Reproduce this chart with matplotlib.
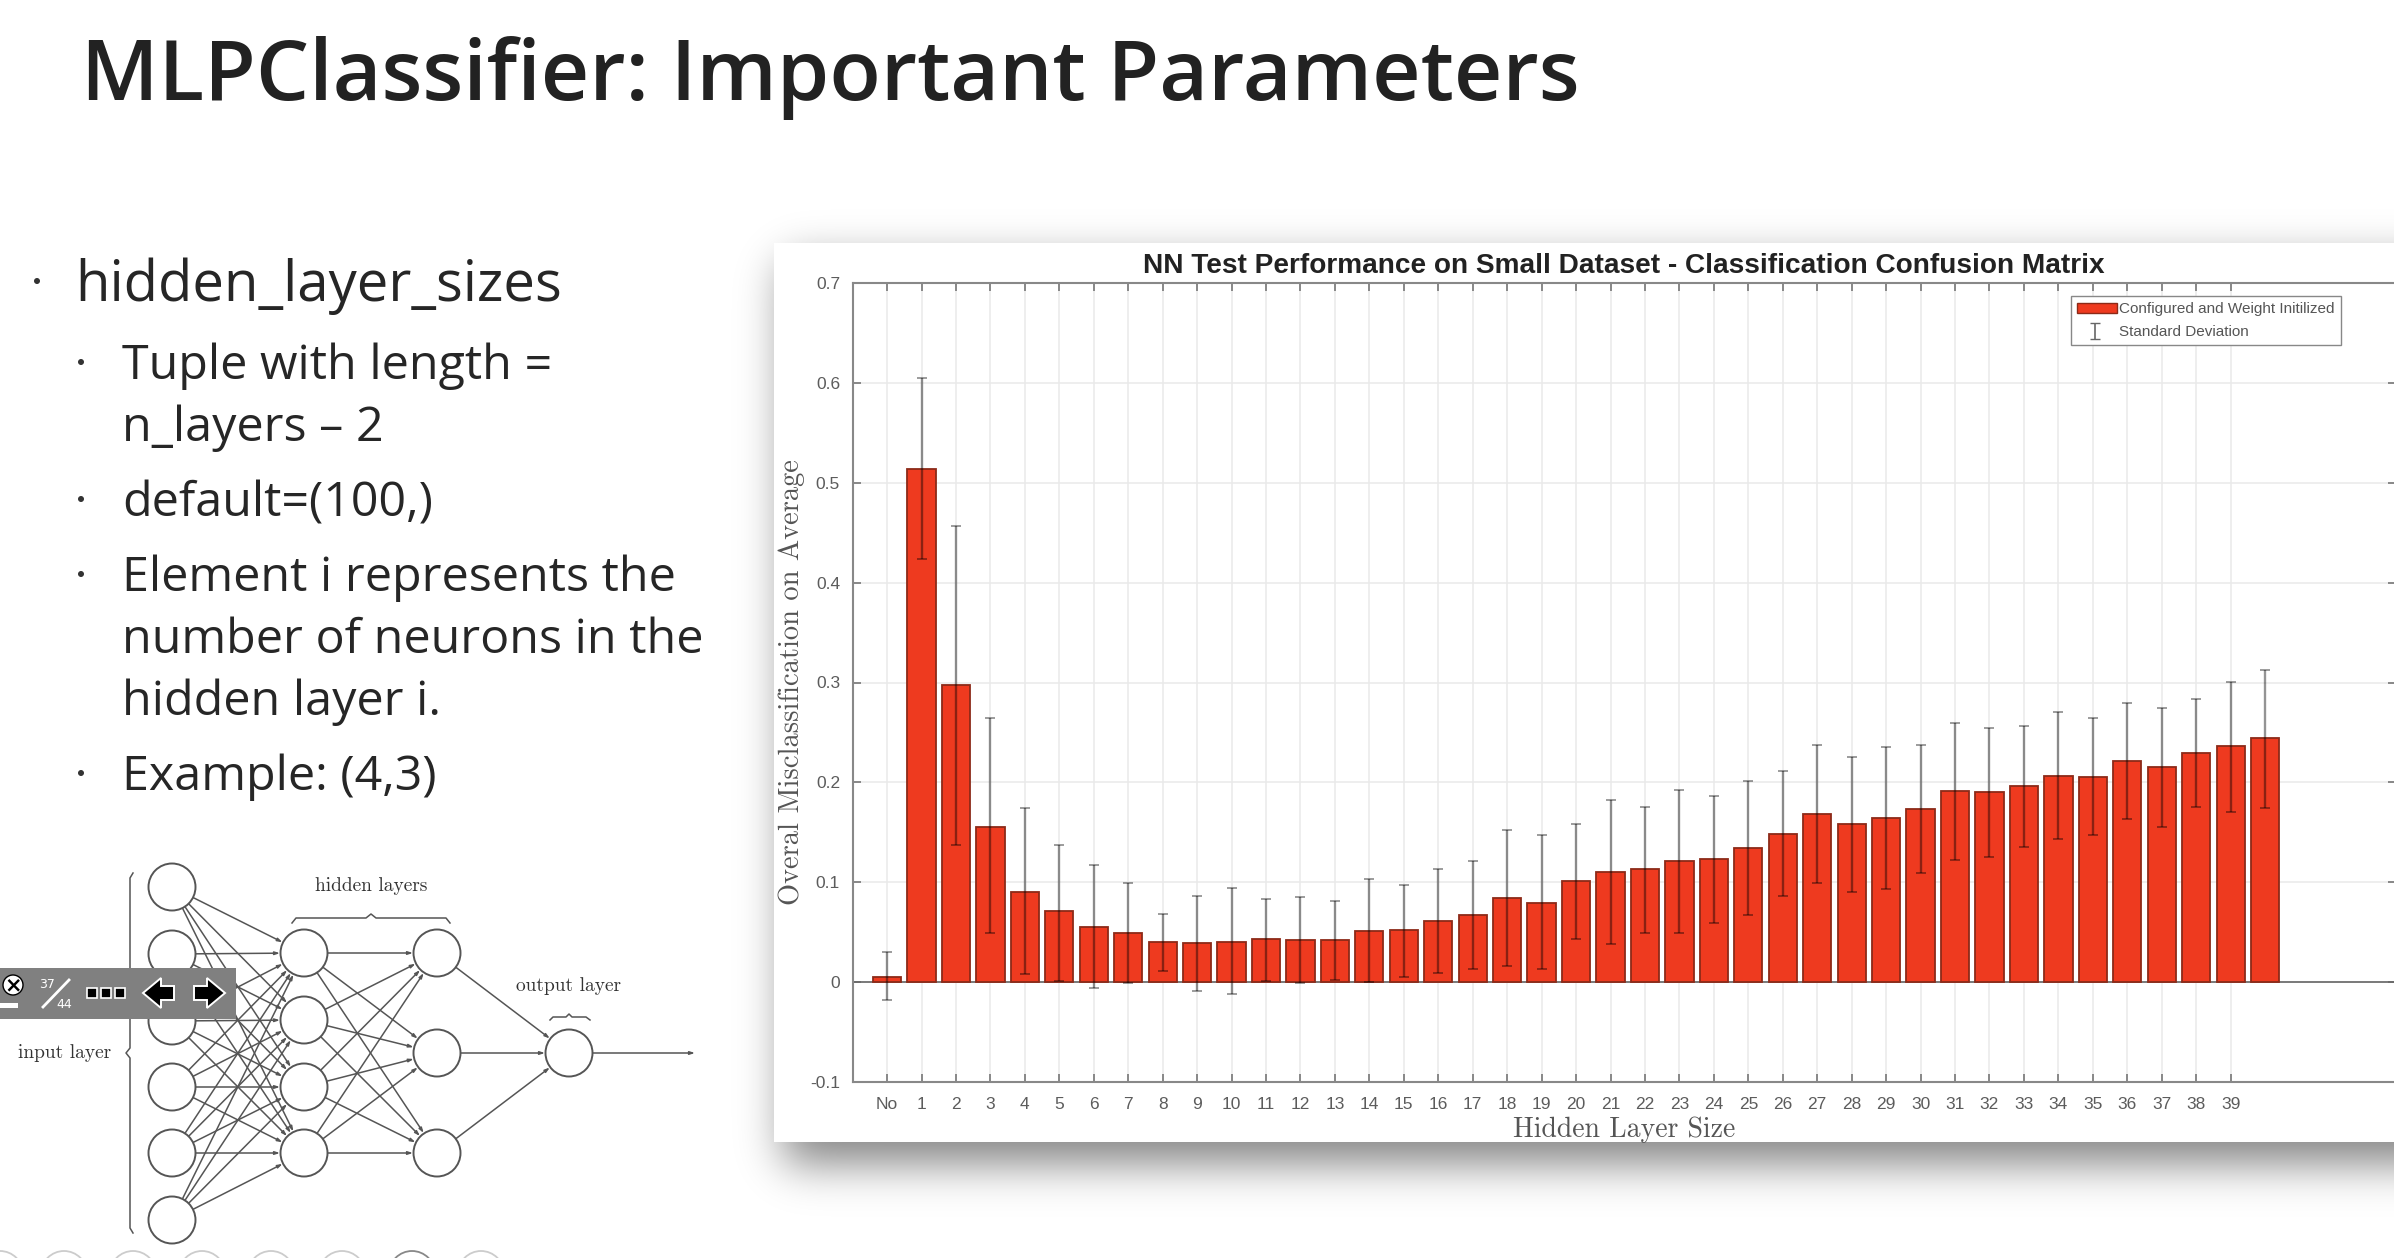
import math
import numpy as np
import matplotlib
matplotlib.use('Agg')
import matplotlib.pyplot as plt
from matplotlib.patches import Rectangle, Ellipse, Patch, Polygon
from matplotlib.lines import Line2D

W, H = 2394, 1258

# chart values
labels = ['No'] + [str(i) for i in range(1, 40)]
means = [.005, .514, .297, .155, .090, .071, .055, .049, .040, .039, .040,
         .043, .042, .042, .051, .052, .061, .067, .084, .079, .101,
         .110, .113, .121, .123, .134, .148, .168, .158, .164, .173,
         .191, .190, .196, .206, .205, .221, .215, .229, .236, .244]
upper = [.030, .605, .457, .264, .174, .137, .117, .099, .068, .086, .094,
         .083, .085, .081, .103, .097, .113, .121, .152, .147, .158,
         .182, .175, .192, .186, .201, .211, .237, .225, .235, .237,
         .259, .254, .256, .270, .264, .279, .274, .283, .301, .313]
lower = [-.018, .424, .137, .049, .008, .001, -.006, -.001, .011, -.009, -.012,
         .001, -.001, .002, .000, .005, .009, .013, .016, .013, .043,
         .038, .049, .049, .059, .067, .086, .099, .090, .093, .109,
         .122, .125, .135, .143, .147, .163, .155, .175, .170, .174]
yticks = [-.1, 0, .1, .2, .3, .4, .5, .6, .7]
ytick_labels = ['-0.1', '0', '0.1', '0.2', '0.3', '0.4', '0.5', '0.6', '0.7']

# slide text
title = 'MLPClassifier: Important Parameters'
bullets = [('hidden_layer_sizes', 1, 301, True),
           ('Tuple with length =', 2, 379, True),
           ('n_layers – 2', 2, 441, False),
           ('default=(100,)', 2, 516, True),
           ('Element i represents the', 2, 591, True),
           ('number of neurons in the', 2, 653, False),
           ('hidden layer i.', 2, 715, False),
           ('Example: (4,3)', 2, 790, True)]

# network sketch
layer_x = [172, 304, 437, 569]
layer_y = [[887, 954, 1021, 1087, 1153, 1220],
           [953, 1020, 1087, 1153],
           [953, 1053, 1153],
           [1053]]
thumb_x = [0, 64, 133, 202, 271, 342, 412, 481]

fig = plt.figure(figsize=(W / 100, H / 100), dpi=100, facecolor='white')


def pixel_rect(left, top, right, bottom):
    return [left / W, 1 - bottom / H, (right - left) / W, (bottom - top) / H]


bg = fig.add_axes([0, 0, 1, 1], zorder=0)

# soft shadow round the chart panel
erf = np.vectorize(math.erf)
xx = np.arange(W) + .5
yy = np.arange(H) + .5
sx = .5 * (erf((xx - 784) / 31) + 1)
sy = .5 * (erf((yy - 262) / 31) - erf((yy - 1164) / 31))
shadow = np.zeros((H, W, 4))
shadow[..., 3] = .48 * np.outer(sy, sx)
bg.imshow(shadow, extent=(0, W, H, 0), aspect='auto', interpolation='nearest', zorder=0)
bg.set_xlim(0, W)
bg.set_ylim(H, 0)
bg.axis('off')
bg.add_patch(Rectangle((774, 243), 1700, 899, fc='white', ec='none', zorder=3))

bg.text(81, 100, title, family='Open Sans', fontweight='semibold', fontsize=60.6,
        color='#222222', va='baseline')

for text, level, base, dot in bullets:
    x = 75 if level == 1 else 122
    size = 40.5 if level == 1 else 34.8
    bg.text(x, base, text, family='Open Sans', fontsize=size, color='#262626', va='baseline')
    if dot:
        bg.add_patch(Ellipse((37 if level == 1 else 81, base - 20 if level == 1 else base - 17),
                             6, 6, fc='#333333', ec='none'))

# network connections, circles on top
line_kw = dict(color='#555555', lw=1.1)
head = '-|>,head_length=.28,head_width=.09'
for a in range(3):
    for ya in layer_y[a]:
        for yb in layer_y[a + 1]:
            dx, dy = layer_x[a + 1] - layer_x[a], yb - ya
            n = np.hypot(dx, dy)
            bg.annotate('', xy=(layer_x[a + 1] - dx / n * 24, yb - dy / n * 24),
                        xytext=(layer_x[a] + dx / n * 24, ya + dy / n * 24),
                        arrowprops=dict(arrowstyle=head, shrinkA=0, shrinkB=0, **line_kw))
bg.annotate('', xy=(695, 1053), xytext=(593, 1053),
            arrowprops=dict(arrowstyle=head, shrinkA=0, shrinkB=0, **line_kw))
for x, ys in zip(layer_x, layer_y):
    for y in ys:
        bg.add_patch(Ellipse((x, y), 47, 47, fc='white', ec='#555555', lw=1.4, zorder=2))

# braces, plain lines
bg.plot([133, 130, 130, 126, 130, 130, 133], [873, 878, 1048, 1053, 1058, 1228, 1233], **line_kw)
bg.plot([292, 296, 366, 371, 376, 446, 450], [923, 918, 918, 914, 918, 918, 923], **line_kw)
bg.plot([550, 553, 566, 569, 572, 586, 590], [1020, 1017, 1017, 1014, 1017, 1017, 1020], **line_kw)
for text, x, y in [('hidden layers', 371, 886), ('output layer', 569, 986), ('input layer', 65, 1053)]:
    bg.text(x, y, text, family='cmr10', fontsize=14, color='#333333', ha='center', va='center')

# bottom thumbnails, cut by the slide edge
for i, x in enumerate(thumb_x):
    bg.add_patch(Ellipse((x, 1274), 46, 46, fc='white', ec='#888888' if i == 6 else '#cccccc', lw=1.3))

# viewer toolbar
bg.add_patch(Rectangle((0, 968), 236, 51, fc='#808080', ec='none', zorder=5))
bg.add_patch(Ellipse((13, 985), 20, 20, fc='white', ec='black', lw=1, zorder=6))
bg.text(13, 985, '×', fontsize=15, fontweight='bold', ha='center', va='center', zorder=7)
bg.add_patch(Rectangle((0, 1003), 18, 5, fc='white', ec='none', zorder=6))
bg.text(47, 985, '37', fontsize=9, color='white', ha='center', va='center', zorder=6)
bg.text(64, 1004, '44', fontsize=9, color='white', ha='center', va='center', zorder=6)
bg.plot([69, 43], [980, 1007], color='white', lw=2, zorder=6)
for x in [92, 106, 120]:
    bg.add_patch(Rectangle((x - 5, 988), 10, 10, fc='black', ec='white', lw=1.2, zorder=6))
bg.add_patch(Polygon([[143, 993], [161, 978], [161, 986], [174, 986], [174, 1000], [161, 1000], [161, 1008]],
                     fc='black', ec='white', lw=1.4, zorder=6))
bg.add_patch(Polygon([[225, 993], [207, 978], [207, 986], [194, 986], [194, 1000], [207, 1000], [207, 1008]],
                     fc='black', ec='white', lw=1.4, zorder=6))

# the chart itself
ax = fig.add_axes(pixel_rect(852.6, 283, 2396, 1082), zorder=1)
x = np.arange(len(means))
means = np.array(means)
ax.bar(x, means, width=.82, color='#ee3a1f', edgecolor='#8c2a18', linewidth=1.3, zorder=2)
ax.errorbar(x, means, yerr=[means - np.array(lower), np.array(upper) - means], fmt='none',
            ecolor='black', alpha=.42, elinewidth=1.7, capsize=3.6, capthick=1.3, zorder=3)
ax.axhline(0, color='#666666', lw=1.2, zorder=1)
ax.set_xlim(-1, 43.8)
ax.set_ylim(-.1, .7)
ax.set_xticks(np.arange(len(labels)))
ax.set_xticklabels(labels)
ax.set_yticks(yticks)
ax.set_yticklabels(ytick_labels)
ax.grid(True, color='#e9e9e9', lw=1.1, zorder=0)
ax.set_axisbelow(True)
ax.tick_params(direction='in', top=True, right=True, length=6, width=1.2, color='#777777',
               labelcolor='#5c5c5c', labelsize=12.5, pad=9)
ax.tick_params(axis='x', pad=11)
for label in ax.get_xticklabels() + ax.get_yticklabels():
    label.set_family('Liberation Sans')
for s in ax.spines.values():
    s.set_color('#888888')
    s.set_linewidth(1.5)
ax.set_title('NN Test Performance on Small Dataset - Classification Confusion Matrix',
             family='Liberation Sans', fontweight='bold', fontsize=20.2, color='#222222', pad=7.5)
ax.set_xlabel('Hidden Layer Size', family='cmr10', fontsize=20, color='#555555', labelpad=3)
ax.set_ylabel('Overal Misclassification on Average', family='cmr10', fontsize=20.5,
              color='#555555', labelpad=3.5)

handles = [Patch(fc='#ee3a1f', ec='#8c2a18'),
           Line2D([], [], lw=0)]
leg = ax.legend(handles, ['Configured and Weight Initilized', 'Standard Deviation'],
                loc='upper left',
                bbox_to_anchor=((2071 - 852.6) / (2396 - 852.6), 1 - (296 - 283) / (1082 - 283)),
                prop={'family': 'Liberation Sans', 'size': 11}, fancybox=False, framealpha=1,
                edgecolor='#888888', borderaxespad=0, borderpad=.42, labelspacing=.55,
                handlelength=2.6, handletextpad=.15, labelcolor='#555555')
leg.set_zorder(5)
# the I-shaped key of the error bar
ax.errorbar([(2095 - 887) / 34.44], [.7 - (331 - 283) / 999], yerr=.008, color='#666666', lw=1.2,
            capsize=3.5, zorder=6)

fig.savefig('out.png', dpi=100)
